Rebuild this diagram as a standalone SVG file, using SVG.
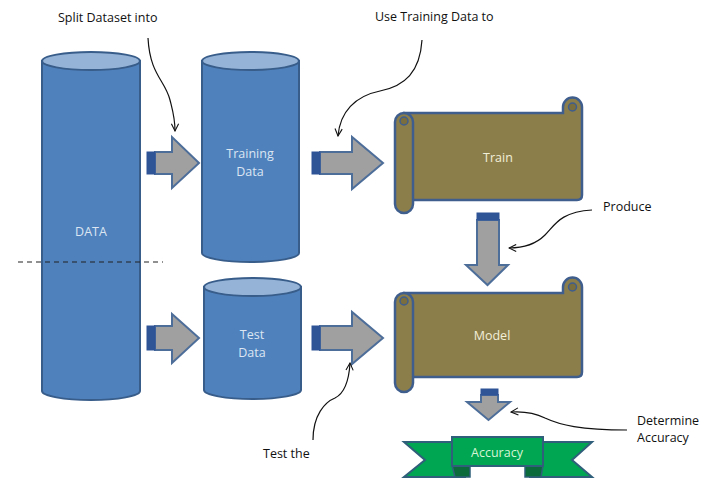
<svg xmlns="http://www.w3.org/2000/svg" width="712" height="485" viewBox="0 0 712 485">
<defs>
<style>
.cyl{fill:#4F81BD;stroke:#385D8A;stroke-width:2}
.cyltop{fill:#95B3D7;stroke:#385D8A;stroke-width:2}
.scroll{fill:#8C7E4B;stroke:#3F5E8E;stroke-width:2.5}
.arr{fill:#A0A0A0;stroke:#4E6E9A;stroke-width:2}
.cap{fill:#2F5597;stroke:#2F5597;stroke-width:1}
.ann{fill:none;stroke:#111;stroke-width:1.2}
.t{font-family:"Open Sans","Liberation Sans",sans-serif;font-size:12.5px;fill:#111}
.w{font-family:"Open Sans","Liberation Sans",sans-serif;font-size:12.5px;text-anchor:middle}
</style>
<marker id="ah" viewBox="0 0 10 10" refX="9" refY="5" markerWidth="9" markerHeight="9" orient="auto" markerUnits="userSpaceOnUse">
<path d="M1,1 L9,5 L1,9" fill="none" stroke="#111" stroke-width="1.2"/>
</marker>
</defs>
<rect width="712" height="485" fill="#fff"/>

<g id="data">
<path class="cyl" d="M42,61 V391 A49,9 0 0 0 140,391 V61 Z"/>
<ellipse class="cyltop" cx="91" cy="61" rx="49" ry="9"/>
<text class="w" x="91" y="236" fill="#DCE6F2">DATA</text>
</g>

<g id="training-data">
<path class="cyl" d="M202,61 V253 A48.5,9 0 0 0 299,253 V61 Z"/>
<ellipse class="cyltop" cx="250.5" cy="61" rx="48.5" ry="9"/>
<text class="w" x="250" y="158" fill="#DCE6F2">Training</text>
<text class="w" x="250" y="176" fill="#DCE6F2">Data</text>
</g>

<g id="test-data">
<path class="cyl" d="M204,287 V390 A48.5,9 0 0 0 301,390 V287 Z"/>
<ellipse class="cyltop" cx="252.5" cy="287" rx="48.5" ry="9"/>
<text class="w" x="252" y="339" fill="#DCE6F2">Test</text>
<text class="w" x="252" y="357" fill="#DCE6F2">Data</text>
</g>

<line x1="18" y1="262" x2="163" y2="262" stroke="#222" stroke-width="1.2" stroke-dasharray="5,4"/>

<g id="train">
<path class="scroll" d="M404,113 H563 V107 A9.5,9.5 0 0 1 582,107 V195 Q582,200 577,200 H404 Z"/>
<path class="scroll" d="M395,122 A9,9 0 0 1 413,122 V204 A9,9 0 0 1 395,204 Z"/>
<circle cx="404" cy="121" r="4" fill="#7A6D3E" stroke="#3F5E8E" stroke-width="1.5"/>
<circle cx="572.5" cy="107" r="4" fill="#7A6D3E" stroke="#3F5E8E" stroke-width="1.5"/>
<text class="w" x="498" y="162" fill="#F2EFD9">Train</text>
</g>

<g id="model">
<path class="scroll" d="M404,293 H563 V287 A9.5,9.5 0 0 1 582,287 V372 Q582,377 577,377 H404 Z"/>
<path class="scroll" d="M395,302 A9,9 0 0 1 413,302 V383 A9,9 0 0 1 395,383 Z"/>
<circle cx="404" cy="301" r="4" fill="#7A6D3E" stroke="#3F5E8E" stroke-width="1.5"/>
<circle cx="572.5" cy="287" r="4" fill="#7A6D3E" stroke="#3F5E8E" stroke-width="1.5"/>
<text class="w" x="492" y="340" fill="#F2EFD9">Model</text>
</g>

<g id="accuracy">
<polygon points="404,442 465,442 465,477 404,477 425,460" fill="#00A651" stroke="#2F5F7A" stroke-width="2"/>
<polygon points="592,442 530,442 530,477 592,477 572,460" fill="#00A651" stroke="#2F5F7A" stroke-width="2"/>
<polygon points="452,465 470,465 470,477 455,477" fill="#0B6B3A" stroke="#2F5F7A" stroke-width="1.5"/>
<polygon points="525,465 543,465 541,477 525,477" fill="#0B6B3A" stroke="#2F5F7A" stroke-width="1.5"/>
<rect x="452" y="437" width="91" height="29" fill="#00A651" stroke="#2F5F7A" stroke-width="2"/>
<text class="w" x="497" y="457" fill="#D6F5D6">Accuracy</text>
</g>

<g id="connectors">
<polygon class="arr" points="155,152 172,152 172,137 199,163 172,188 172,174 155,174"/>
<rect class="cap" x="147" y="152" width="8" height="22"/>
<polygon class="arr" points="320,152 352,152 352,137 383,163 352,189 352,174 320,174"/>
<rect class="cap" x="312" y="152" width="8" height="22"/>
<polygon class="arr" points="155,326 172,326 172,314 199,338 172,363 172,350 155,350"/>
<rect class="cap" x="147" y="326" width="8" height="24"/>
<polygon class="arr" points="320,326 352,326 352,312 383,338 352,364 352,350 320,350"/>
<rect class="cap" x="312" y="326" width="8" height="24"/>
<polygon class="arr" points="477,220 499,220 499,265 508,265 487.5,285 466,265 477,265"/>
<rect class="cap" x="477" y="213" width="22" height="7"/>
<polygon class="arr" points="481,395 498,395 498,402 510,402 488.5,420 467,402 481,402"/>
<rect class="cap" x="481" y="389" width="17" height="6"/>

<path class="ann" marker-end="url(#ah)" d="M148,38 C150,75 165,80 170,100 C173,112 175,118 175,131"/>
<path class="ann" marker-end="url(#ah)" d="M422,40 C420,72 405,86 380,91 C355,96 340,112 338,136"/>
<path class="ann" marker-end="url(#ah)" d="M592,210 C560,212 555,225 545,235 C535,245 522,248 509,248"/>
<path class="ann" marker-end="url(#ah)" d="M313,440 C313,415 325,402 335,398 C345,393 349,380 350,363"/>
<path class="ann" marker-end="url(#ah)" d="M627,430 C580,430 560,425 545,418 C535,413 525,411 511,412"/>
</g>

<text class="t" x="58" y="22">Split Dataset into</text>
<text class="t" x="375" y="21">Use Training Data to</text>
<text class="t" x="603" y="211">Produce</text>
<text class="t" x="263" y="458">Test the</text>
<text class="t" x="637" y="425">Determine</text>
<text class="t" x="637" y="442">Accuracy</text>
</svg>
